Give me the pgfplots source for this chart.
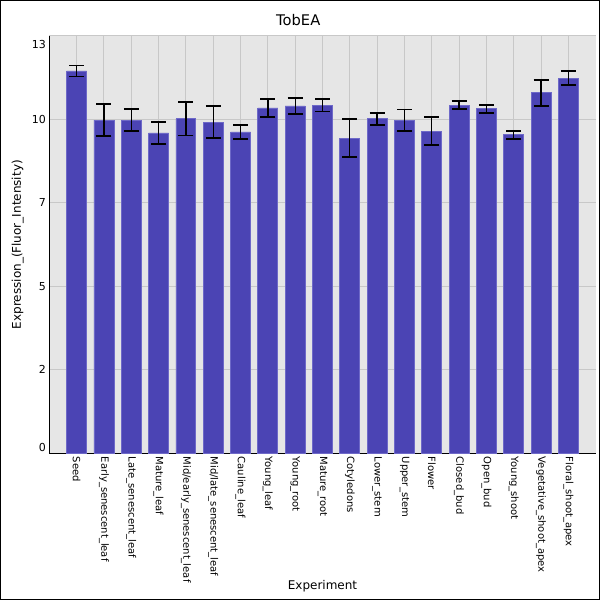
\documentclass[border=0pt]{standalone}
\usepackage{pgfplots}
\usepackage{pgfplotstable}
\pgfplotsset{compat=1.18}
\usepackage{fontspec}
\setmainfont{DejaVu Sans}
\definecolor{barfill}{RGB}{75,68,180}
\definecolor{baredge}{RGB}{110,105,200}
\definecolor{plotbg}{RGB}{230,230,230}
\definecolor{gridc}{RGB}{200,200,200}
\pgfplotstableread{
x y err
0 11.91 0.17
1 10.38 0.50
2 10.38 0.34
3 9.98 0.35
4 10.42 0.52
5 10.32 0.51
6 10.01 0.21
7 10.76 0.28
8 10.82 0.24
9 10.85 0.20
10 9.82 0.60
11 10.42 0.18
12 10.38 0.33
13 10.04 0.43
14 10.85 0.12
15 10.73 0.13
16 9.92 0.13
17 11.23 0.41
18 11.69 0.22
}\datatable
\begin{document}
\begin{tikzpicture}
\path[use as bounding box] (0,0) rectangle (450pt,450pt);
\fill[white] (0,0) rectangle (450pt,450pt);
\begin{axis}[
  at={(36.98pt,110.0pt)}, anchor=south west,
  scale only axis, width=409.8pt, height=313pt,
  xmin=-1, xmax=19, ymin=0, ymax=13,
  axis background/.style={fill=plotbg},
  axis x line*=bottom, axis y line*=left,
  axis line style={black, line width=0.75pt, -},
  xtick={0,...,18},
  xticklabels={Seed,Early\_senescent\_leaf,Late\_senescent\_leaf,Mature\_leaf,Mid/early\_senescent\_leaf,Mid/late\_senescent\_leaf,Cauline\_leaf,Young\_leaf,Young\_root,Mature\_root,Cotyledons,Lower\_stem,Upper\_stem,Flower,Closed\_bud,Open\_bud,Young\_shoot,Vegetative\_shoot\_apex,Floral\_shoot\_apex},
  ytick={0,2.6,5.2,7.8,10.4,13},
  yticklabels={\raisebox{4.7pt}[\height][\depth]{0},2,5,7,10,\raisebox{-6pt}[\height][\depth]{13}},
  major tick length=0pt,
  xmajorgrids, ymajorgrids,
  grid style={gridc, line width=0.75pt},
  xticklabel style={rotate=-90, anchor=west, inner sep=0pt, outer sep=2.6pt, font=\fontsize{7.5}{8}\selectfont},
  yticklabel style={anchor=east, inner sep=0pt, outer sep=2.5pt, font=\fontsize{8.25}{9}\selectfont},
  title={TobEA},
  every axis title/.style={at={(axis description cs:0.4556,1.0383)}, anchor=center, inner sep=0pt, font=\fontsize{11}{13}\selectfont},
  xlabel={Experiment},
  xlabel style={at={(axis description cs:0.5,-0.318)}, anchor=center, inner sep=0pt, font=\fontsize{9}{11}\selectfont},
  ylabel={Expression\_(Fluor\_Intensity)},
  ylabel style={at={(axis description cs:-0.0578,0.5)}, anchor=center, rotate=0, inner sep=0pt, font=\fontsize{9}{11}\selectfont},
  ybar, bar width=0.73,
]
\addplot[fill=barfill, draw=baredge, line width=0.6pt,
  error bars/.cd, y dir=both, y explicit,
  error bar style={black, line width=1pt},
  error mark options={black, line width=1.4pt, mark size=5.6pt, rotate=90}]
  table[x=x, y=y, y error=err] {\datatable};
\end{axis}
\draw[black, line width=0.75pt] (0.375pt,0.375pt) rectangle (449.625pt,449.625pt);
\end{tikzpicture}
\end{document}
